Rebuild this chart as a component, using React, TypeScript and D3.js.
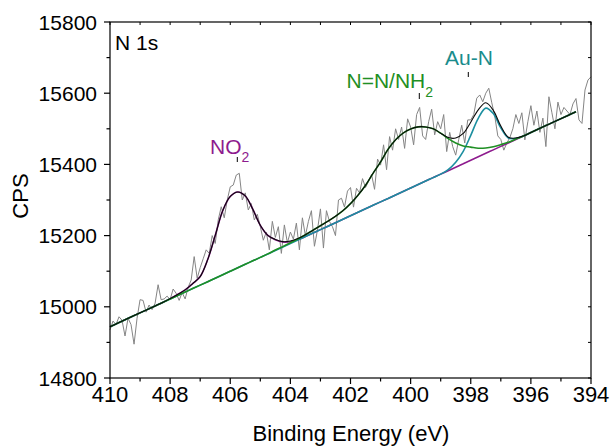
import React from "react";
import * as d3 from "d3";

// Raw spectrum: counts from 410.0 eV down to 394.0 eV, 0.1 eV step
const dataStartEnergy = 410;
const dataStep = 0.1;
const counts = [
  14935, 14960, 14950, 14972, 14962, 14918, 14968, 14950, 14895, 14968,
  15020, 15018, 14985, 15005, 14992, 15010, 15062, 15020, 15022, 15030,
  15020, 15050, 15038, 15018, 15040, 15022, 15055, 15075, 15141, 15080,
  15110, 15135, 15160, 15150, 15200, 15178, 15244, 15281, 15250, 15300,
  15337, 15342, 15370, 15375, 15300, 15320, 15272, 15290, 15244, 15260,
  15225, 15187, 15210, 15160, 15240, 15195, 15225, 15150, 15230, 15180,
  15210, 15190, 15235, 15160, 15250, 15200, 15240, 15270, 15170, 15215,
  15275, 15165, 15270, 15240, 15225, 15200, 15300, 15305, 15280, 15325,
  15335, 15280, 15333, 15320, 15360, 15335, 15352, 15372, 15330, 15415,
  15398, 15455, 15385, 15478, 15440, 15500, 15470, 15505, 15445, 15528,
  15505, 15455, 15540, 15560, 15480, 15470, 15520, 15555, 15483, 15520,
  15500, 15540, 15436, 15490, 15450, 15426, 15470, 15510, 15460, 15525,
  15525, 15540, 15586, 15595, 15576, 15600, 15614, 15573, 15535, 15480,
  15470, 15440, 15460, 15475, 15500, 15540, 15515, 15545, 15469, 15520,
  15565, 15510, 15550, 15490, 15530, 15450, 15590, 15545, 15500, 15575,
  15540, 15560, 15550, 15540, 15570, 15585, 15525, 15515, 15609, 15637,
  15646,
];

// Fit: linear background end points and peak heights above background
// on a 0.25 eV grid from 410 eV down to 394.5 eV
const fitStartEnergy = 410;
const fitStep = 0.25;
const backgroundEnergy = [410, 394.5];
const backgroundCounts = [14944, 15548];
const no2Peak = [
  0, 0, 0, 0, 0, 0, 0, 0, 1, 3,
  6, 14, 24, 62, 120, 180, 210, 213, 192, 145,
  90, 52, 30, 14, 5, 1, 0, 0, 0, 0,
  0, 0, 0, 0, 0, 0, 0, 0, 0, 0,
  0, 0, 0, 0, 0, 0, 0, 0, 0, 0,
  0, 0, 0, 0, 0, 0, 0, 0, 0, 0,
  0, 0, 0,
];
const nnPeak = [
  0, 0, 0, 0, 0, 0, 0, 0, 0, 0,
  0, 0, 0, 0, 0, 0, 0, 0, 0, 0,
  0, 0, 1, 1, 2, 3, 5, 8, 11, 14,
  18, 24, 34, 48, 66, 90, 112, 138, 155, 164,
  166, 162, 152, 137, 115, 90, 68, 50, 37, 24,
  15, 9, 5, 2, 1, 0, 0, 0, 0, 0,
  0, 0, 0,
];
const aunPeak = [
  0, 0, 0, 0, 0, 0, 0, 0, 0, 0,
  0, 0, 0, 0, 0, 0, 0, 0, 0, 0,
  0, 0, 0, 0, 0, 0, 0, 0, 0, 0,
  0, 0, 0, 0, 0, 0, 0, 0, 0, 0,
  0, 0, 0, 0, 0, 3, 14, 35, 70, 108,
  127, 102, 52, 14, 3, 0, 0, 0, 0, 0,
  0, 0, 0,
];

const xMajorTicks = [410, 408, 406, 404, 402, 400, 398, 396, 394];
const yMajorTicks = [14800, 15000, 15200, 15400, 15600, 15800];

const colors = {
  data: "#858585",
  no2: "#8e1b8e",
  nn: "#1f8f24",
  aun: "#1c8fa0",
  aunLabel: "#1a8c8c",
  env: "#0a0a0a",
};

export default function App() {
  const W = 610;
  const H = 447;
  const L = 110, R = 591, T = 22, B = 378;
  const x = d3.scaleLinear().domain([410, 394]).range([L, R]);
  const y = d3.scaleLinear().domain([14800, 15800]).range([B, T]);
  const bg = d3.scaleLinear().domain(backgroundEnergy).range(backgroundCounts);

  const dataPts: [number, number][] = counts.map((c, i) => [dataStartEnergy - i * dataStep, c]);
  const fitE = no2Peak.map((_, i) => fitStartEnergy - i * fitStep);
  const comp = (peak: number[]) => fitE.map((e, i) => [e, bg(e) + peak[i]] as [number, number]);
  const envelope = fitE.map((e, i) => [e, bg(e) + no2Peak[i] + nnPeak[i] + aunPeak[i]] as [number, number]);

  const rawLine = d3.line<[number, number]>().x((d) => x(d[0])).y((d) => y(d[1]));
  const smoothLine = d3
    .line<[number, number]>()
    .x((d) => x(d[0]))
    .y((d) => y(d[1]))
    .curve(d3.curveCatmullRom.alpha(0.5));

  const xMinor = d3.range(410, 393.5, -1);
  const yMinor = d3.range(14800, 15801, 100);
  const font = "Liberation Sans, Arial, sans-serif";
  const tickFs = 21;

  return (
    <svg
      width={W}
      height={H}
      style={{ position: "absolute", left: 0, top: 0, background: "#fff" }}
      fontFamily={font}
    >
      <rect x={0} y={0} width={W} height={H} fill="#fff" />
      {/* data */}
      <path d={rawLine(dataPts) || ""} fill="none" stroke={colors.data} strokeWidth={1} />
      {/* components */}
      <path d={smoothLine(comp(no2Peak)) || ""} fill="none" stroke={colors.no2} strokeWidth={1.6} />
      <path d={smoothLine(comp(aunPeak)) || ""} fill="none" stroke={colors.aun} strokeWidth={1.6} />
      <path d={smoothLine(comp(nnPeak)) || ""} fill="none" stroke={colors.nn} strokeWidth={1.6} />
      <path d={smoothLine(envelope) || ""} fill="none" stroke={colors.env} strokeWidth={1.1} />

      {/* frame */}
      <rect x={L} y={T} width={R - L} height={B - T} fill="none" stroke="#000" strokeWidth={1.2} />

      {/* bottom and top ticks */}
      {xMinor.map((v) => {
        const major = xMajorTicks.includes(v);
        return (
          <g key={"bx" + v}>
            <line x1={x(v)} x2={x(v)} y1={B} y2={B + (major ? 6 : 3.5)} stroke="#000" strokeWidth={1.2} />
            <line x1={x(v)} x2={x(v)} y1={T} y2={T + 3} stroke="#000" strokeWidth={1} />
          </g>
        );
      })}
      {xMajorTicks.map((v) => (
        <text key={"xl" + v} x={x(v)} y={B + 24} fontSize={22} textAnchor="middle" fill="#000">
          {v}
        </text>
      ))}

      {/* left and right ticks */}
      {yMinor.map((v) => {
        const major = yMajorTicks.includes(v);
        return (
          <g key={"ly" + v}>
            <line x1={L} x2={L - (major ? 6 : 3.5)} y1={y(v)} y2={y(v)} stroke="#000" strokeWidth={1.2} />
            <line x1={R} x2={R - 3} y1={y(v)} y2={y(v)} stroke="#000" strokeWidth={1} />
          </g>
        );
      })}
      {yMajorTicks.map((v) => (
        <text key={"yl" + v} x={L - 13} y={y(v)} dy="0.36em" fontSize={tickFs} textAnchor="end" fill="#000">
          {v}
        </text>
      ))}

      {/* axis titles */}
      <text x={351} y={441} fontSize={22} textAnchor="middle" fill="#000">
        Binding Energy (eV)
      </text>
      <text transform="translate(28,196) rotate(-90)" fontSize={22} textAnchor="middle" fill="#000">
        CPS
      </text>

      {/* N 1s */}
      <text x={115} y={50} fontSize={21} fill="#000">
        N 1s
      </text>

      {/* annotations */}
      <text x={210} y={154} fontSize={21} fill={colors.no2}>
        NO<tspan fontSize={14} dy={8}>2</tspan>
      </text>
      <line x1={237.3} x2={237.3} y1={157} y2={162} stroke="#000" strokeWidth={1} />

      <text x={346.5} y={87.5} fontSize={21} fill={colors.nn}>
        N=N/NH<tspan fontSize={14} dy={9}>2</tspan>
      </text>
      <line x1={419.3} x2={419.3} y1={93} y2={99} stroke="#000" strokeWidth={1} />

      <text x={445} y={65} fontSize={21} fill={colors.aunLabel}>
        Au-N
      </text>
      <line x1={468.3} x2={468.3} y1={72} y2={77} stroke="#000" strokeWidth={1} />
    </svg>
  );
}
